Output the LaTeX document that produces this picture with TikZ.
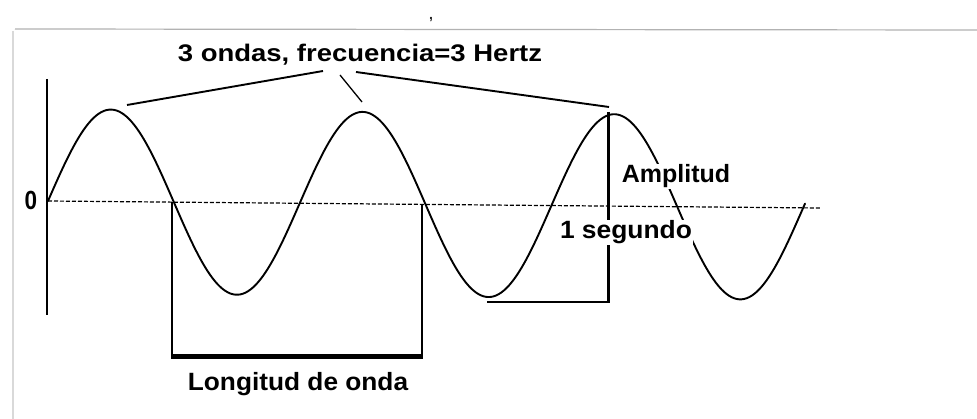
\documentclass[tikz,border=0pt]{standalone}
\usepackage{fontspec}
\setmainfont{Liberation Sans}
\begin{document}
\begin{tikzpicture}[x=1pt,y=-1pt,
  lbl/.style={font=\fontsize{25}{30}\selectfont\bfseries, inner sep=0.8pt, anchor=base, text=black},
  wave/.style={line width=1.9pt, line join=round, line cap=round},
  thinline/.style={line width=1.8pt},
  zeroline/.style={line width=1.2pt, dash pattern=on 4pt off 2pt},
  frame/.style={line width=1.2pt, draw=black!30}]
\useasboundingbox (0,0) rectangle (977,419);
\fill[white] (0,0) rectangle (977,419);
% window frame (scan)
\draw[frame] (15,29) -- (977,30);
\draw[frame, draw=black!15] (13,31) -- (13,419);
\node[font=\fontsize{14}{14}\selectfont\bfseries, text=black!85, inner sep=0pt] (comma) at (431,20) {,};
% axis and zero line
\coordinate (axTop) at (47,79);
\coordinate (axBot) at (47,315);
\draw[line width=1.7pt] (axTop) -- (axBot);
\coordinate (zL) at (48,201);
\coordinate (zR) at (820,208);
\draw[zeroline] (zL) -- (zR);
\node[lbl] (zero) at (31,210) {\scalebox{0.9}[1.05]{0}};
% wave
\draw[wave] plot[domain=48:805, samples=300] (\x, {201+0.0092*(\x-48) - 92*sin(1.43027*(\x-48))});
% wavelength bracket
\coordinate (wA) at (172,202);
\coordinate (wB) at (422,204);
\coordinate (wAb) at (172,357);
\coordinate (wBb) at (422,357);
\draw[thinline] (wA) -- (wAb);
\draw[thinline] (wB) -- (wBb);
\draw[line width=5pt] ([xshift=-0.9pt]wAb) -- ([xshift=0.9pt]wBb);
\node[lbl] (lon) at (298,390) {\scalebox{1.05}[1]{Longitud de onda}};
% amplitude and period
\coordinate (aTop) at (608,112);
\coordinate (aBot) at (608,302);
\coordinate (trough) at (487,302);
\draw[line width=3pt] (aTop) -- ([yshift=1pt]aBot);
\draw[thinline] (trough) -- ([xshift=1.5pt]aBot);
\node[lbl, fill=white] (amp) at (676,183) {Amplitud};
\node[lbl, fill=white] (seg) at (626,239) {\scalebox{1.056}[1]{1 segundo}};
% title and its lines
\node[lbl, font=\fontsize{24}{28}\selectfont\bfseries] (title) at (360,62) {\scalebox{1.145}[1]{3 ondas, frecuencia=3 Hertz}};
\coordinate (tL) at (323,71);
\coordinate (tM) at (340,75);
\coordinate (tR) at (356,72);
\coordinate (pL) at (127,105);
\coordinate (pM) at (362,102);
\coordinate (pR) at (609,107);
\draw[line width=1.9pt] (tL) -- (pL);
\draw[line width=1.3pt] (tM) -- (pM);
\draw[line width=1.9pt] (tR) -- (pR);
\end{tikzpicture}
\end{document}
